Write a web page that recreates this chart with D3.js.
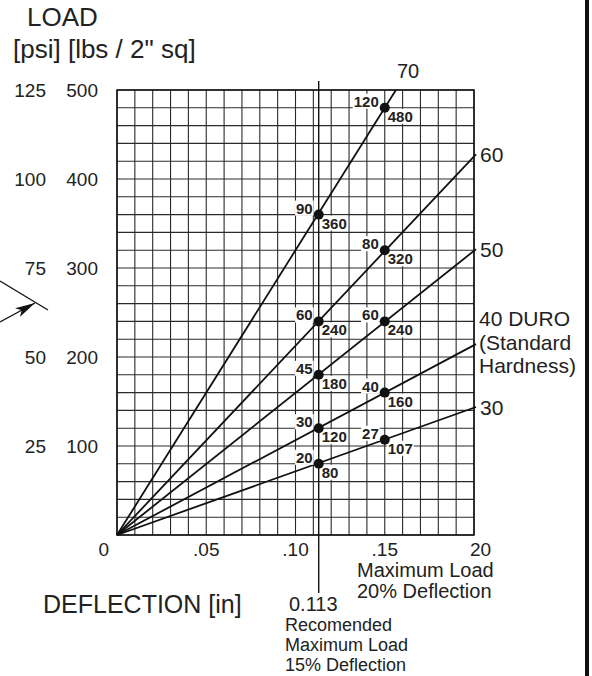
<!DOCTYPE html>
<html>
<head>
<meta charset="utf-8">
<script src="https://cdn.jsdelivr.net/npm/d3@7"></script>
<style>
  body { margin: 0; background: #fff; }
  svg { display: block; }
  text { font-family: "Liberation Sans", Arial, sans-serif; fill: #222; }
</style>
</head>
<body>
<div id="container"><svg></svg></div>
<script>
// hardness curves (durometer) and their readings
var duro = [70, 60, 50, 40, 30];
var rec = 0.113;           // recommended max deflection (15%)
var maxDef = 0.15;         // max deflection (20%)
var recPsi = [90, 60, 45, 30, 20];
var recLbs = [360, 240, 180, 120, 80];
var maxPsi = [120, 80, 60, 40, 27];
var maxLbs = [480, 320, 240, 160, 107];

var xTicks = [0, 0.05, 0.10, 0.15, 0.20];
var xTickLabels = ['0', '.05', '.10', '.15', '20'];
var lbsTicks = [100, 200, 300, 400, 500];
var psiTicks = [25, 50, 75, 100, 125];

var W = 592, H = 676;

function main() {
    var svg = d3.select('#container svg').attr('width', W).attr('height', H);

    var x = d3.scaleLinear().domain([0, 0.2]).range([117, 474]);
    var y = d3.scaleLinear().domain([0, 500]).range([535, 90]);

    // grid
    var grid = svg.append('g').attr('stroke', '#2a2a2a').attr('stroke-width', 1.1);
    grid.selectAll('.vx').data(d3.range(0, 21)).enter().append('line')
        .attr('x1', function(i) { return x(i / 100); })
        .attr('x2', function(i) { return x(i / 100); })
        .attr('y1', y(0)).attr('y2', y(500));
    grid.selectAll('.hy').data(d3.range(0, 26)).enter().append('line')
        .attr('y1', function(i) { return y(i * 20); })
        .attr('y2', function(i) { return y(i * 20); })
        .attr('x1', x(0)).attr('x2', x(0.2));
    svg.append('rect')
        .attr('x', x(0)).attr('y', y(500))
        .attr('width', x(0.2) - x(0)).attr('height', y(0) - y(500))
        .attr('fill', 'none').attr('stroke', '#111').attr('stroke-width', 1.5);

    // recommended deflection marker
    svg.append('line')
        .attr('x1', x(rec)).attr('x2', x(rec))
        .attr('y1', 81).attr('y2', 593)
        .attr('stroke', '#111').attr('stroke-width', 1.4);

    // duro lines, through origin and the 20% point
    var lines = svg.append('g');
    var rightLabels = svg.append('g').style('font-size', '21px');
    for (var i = 0; i < duro.length; i++) {
        var slope = maxLbs[i] / maxDef;
        var endX = Math.min(0.2, 500 / slope);
        lines.append('line')
            .attr('x1', x(0)).attr('y1', y(0))
            .attr('x2', x(endX) + (endX < 0.2 ? 0 : 2)).attr('y2', y(slope * endX) - (endX < 0.2 ? 0 : 1))
            .attr('stroke', '#111').attr('stroke-width', 1.8);

        if (endX < 0.2) {
            rightLabels.append('text')
                .attr('x', x(endX) + 1).attr('y', y(500) - 12)
                .style('font-size', '20px')
                .text(duro[i]);
        } else if (duro[i] === 40) {
            var t = rightLabels.append('text').attr('x', x(0.2) + 5).attr('y', y(slope * endX) - 19);
            t.append('tspan').attr('x', x(0.2) + 5).text('40 DURO');
            t.append('tspan').attr('x', x(0.2) + 5).attr('dy', 23.5).text('(Standard');
            t.append('tspan').attr('x', x(0.2) + 5).attr('dy', 23.5).text('Hardness)');
        } else {
            rightLabels.append('text')
                .attr('x', x(0.2) + 6).attr('y', y(slope * endX) + 7)
                .text(duro[i]);
        }
    }

    // reading points
    var pts = svg.append('g');
    function point(px, psi, lbs) {
        var cx = x(px), cy = y(lbs);
        var g = pts.append('g').style('font-size', '15px').style('font-weight', 'bold');
        var a = g.append('text').attr('x', cx - 6).attr('y', cy - 1)
            .attr('text-anchor', 'end').text(psi);
        var b = g.append('text').attr('x', cx + 3).attr('y', cy + 14).text(lbs);
        [a, b].forEach(function(t) {
            var bb = t.node().getBBox();
            g.insert('rect', 'text')
                .attr('x', bb.x - 1).attr('y', bb.y + 1)
                .attr('width', bb.width + 2).attr('height', bb.height - 2)
                .attr('fill', '#fff');
        });
        g.append('circle').attr('cx', cx).attr('cy', cy).attr('r', 5).attr('fill', '#111');
    }
    for (var j = 0; j < duro.length; j++) {
        point(rec, recPsi[j], recLbs[j]);
        point(maxDef, maxPsi[j], maxLbs[j]);
    }

    // y axis labels
    var yl = svg.append('g').style('font-size', '19px').attr('text-anchor', 'end');
    yl.selectAll('.lbs').data(lbsTicks).enter().append('text')
        .attr('x', 98).attr('y', function(d) { return y(d) + 7; })
        .text(function(d) { return d; });
    yl.selectAll('.psi').data(psiTicks).enter().append('text')
        .attr('x', 46).attr('y', function(d, k) { return y(lbsTicks[k]) + 7; })
        .text(function(d) { return d; });

    svg.append('text').attr('x', 27).attr('y', 26).style('font-size', '26px').text('LOAD');
    svg.append('text').attr('x', 13).attr('y', 58).style('font-size', '26px').text('[psi] [lbs / 2" sq]');

    // x axis labels
    var xl = svg.append('g').style('font-size', '19px');
    xl.selectAll('text').data(xTicks).enter().append('text')
        .attr('x', function(d, k) {
            if (k === 0) return x(d) - 8;
            if (k === xTicks.length - 1) return x(d) - 4;
            return x(d);
        })
        .attr('y', 556)
        .attr('text-anchor', function(d, k) {
            if (k === 0) return 'end';
            if (k === xTicks.length - 1) return 'start';
            return 'middle';
        })
        .text(function(d, k) { return xTickLabels[k]; });

    svg.append('text').attr('x', 43).attr('y', 613).style('font-size', '25px').text('DEFLECTION [in]');

    var notes = svg.append('g').style('font-size', '20px');
    notes.append('text').attr('x', 357).attr('y', 577).text('Maximum Load');
    notes.append('text').attr('x', 357).attr('y', 598).text('20% Deflection');
    notes.append('text').attr('x', 289).attr('y', 611).text('0.113');
    var rec3 = svg.append('g').style('font-size', '18px');
    rec3.append('text').attr('x', 285).attr('y', 631).text('Recomended');
    rec3.append('text').attr('x', 285).attr('y', 651).text('Maximum Load');
    rec3.append('text').attr('x', 285).attr('y', 671).text('15% Deflection');

    // side pointer on the left
    svg.append('defs').append('marker')
        .attr('id', 'head').attr('viewBox', '0 0 20 10')
        .attr('refX', 20).attr('refY', 5)
        .attr('markerWidth', 20).attr('markerHeight', 10)
        .attr('markerUnits', 'userSpaceOnUse').attr('orient', 'auto')
        .append('path').attr('d', 'M0,0 L20,5 L0,10 L5,5 Z').attr('fill', '#111');
    svg.append('line').attr('x1', 0).attr('y1', 281).attr('x2', 48).attr('y2', 310)
        .attr('stroke', '#111').attr('stroke-width', 1.3);
    svg.append('line').attr('x1', 0).attr('y1', 322).attr('x2', 35).attr('y2', 303)
        .attr('stroke', '#111').attr('stroke-width', 1.3).attr('marker-end', 'url(#head)');

    // page edge bar
    svg.append('rect').attr('x', 585).attr('y', 0).attr('width', 4).attr('height', H).attr('fill', '#111');
}

main();
</script>
</body>
</html>
